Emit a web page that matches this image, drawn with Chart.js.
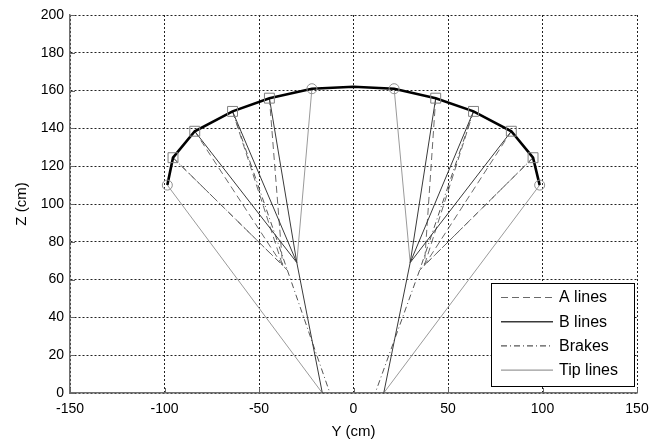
<!DOCTYPE html>
<html lang="en">

<head>
    <meta charset="UTF-8">
    <title>Line plan - front view</title>
    <script src="https://cdn.jsdelivr.net/npm/chart.js@4.4.1/dist/chart.umd.min.js"></script>
    <style>
        body { margin: 0; background: #fff; }
        #wrap { width: 671px; height: 441px; }
    </style>
</head>

<body>
    <div id="wrap">
        <canvas id="linechart" width="671" height="441"></canvas>
    </div>
</body>
<script>
    // canopy leading edge (Y, Z in cm)
    const canopyY = [-98.5, -95.5, -84, -64, -44.5, -22, 0, 21.5, 43.5, 63.5, 83.5, 95, 98.5];
    const canopyZ = [110, 124.5, 138.5, 149, 156, 161, 162, 161, 156, 149, 138.5, 124.5, 110];

    // attachment markers
    const squareY = [-95.5, -84, -64, -44.5, 43.5, 63.5, 83.5, 95];
    const squareZ = [124.5, 138.5, 149, 156, 156, 149, 138.5, 124.5];
    const circleY = [-98.5, -22, 21.5, 98.5];
    const circleZ = [110, 161, 161, 110];

    // line segments: [y1, z1, y2, z2]
    const aLines = [
        [-95.5, 124.5, -37.5, 67.5], [-84, 138.5, -37.5, 67.5], [-64, 149, -37.5, 67.5], [-44.5, 156, -37.5, 67.5],
        [95, 124.5, 37.5, 67.5], [83.5, 138.5, 37.5, 67.5], [63.5, 149, 37.5, 67.5], [43.5, 156, 37.5, 67.5]
    ];
    const bLines = [
        [-84, 138.5, -30, 69], [-64, 149, -30, 69], [-44.5, 156, -30, 69], [-30, 69, -16.5, 0],
        [83.5, 138.5, 30, 69], [63.5, 149, 30, 69], [43.5, 156, 30, 69], [30, 69, 16, 0]
    ];
    const brakeLines = [
        [-95.5, 124.5, -35, 65], [-64, 149, -35, 65], [-35, 65, -12.5, 0],
        [95, 124.5, 35, 65], [63.5, 149, 35, 65], [35, 65, 11.5, 0]
    ];
    const tipLines = [
        [-98.5, 110, -16.5, 0], [-22, 161, -30, 69],
        [98.5, 110, 16, 0], [21.5, 161, 30, 69]
    ];

    const FONT = 'Arial, "Liberation Sans", sans-serif';

    const toPoints = (ys, zs) => ys.map((y, i) => ({ x: y, y: zs[i] }));

    // segments joined with gaps so each list is one dataset
    const toSegments = (segs) => {
        let out = [];
        segs.forEach(s => {
            out.push({ x: s[0], y: s[1] }, { x: s[2], y: s[3] }, { x: s[2], y: null });
        });
        return out;
    };

    const styles = {
        a: { color: '#6a6a6a', dash: [7, 4], width: 1 },
        b: { color: '#3a3a3a', dash: [], width: 1 },
        brake: { color: '#555', dash: [6, 3, 1, 3], width: 1 },
        tip: { color: '#9a9a9a', dash: [], width: 1 }
    };

    const segDataset = (label, segs, st, order) => ({
        label: label,
        data: toSegments(segs),
        showLine: true,
        borderColor: st.color,
        borderWidth: st.width,
        borderDash: st.dash,
        pointRadius: 0,
        spanGaps: false,
        order: order
    });

    // legend box drawn inside the plot
    const legendBox = {
        id: 'legendBox',
        afterDraw(chart) {
            const ctx = chart.ctx;
            const items = [['A lines', styles.a], ['B lines', styles.b], ['Brakes', styles.brake], ['Tip lines', styles.tip]];
            ctx.save();
            ctx.fillStyle = '#fff';
            ctx.fillRect(491, 283, 143, 103);
            ctx.strokeStyle = '#000';
            ctx.lineWidth = 1;
            ctx.setLineDash([]);
            ctx.strokeRect(491.5, 283.5, 143, 103);
            items.forEach((it, i) => {
                const y = 297 + i * 24.2;
                ctx.strokeStyle = it[1].color;
                ctx.lineWidth = it[0] === 'B lines' ? 1.6 : 1.2;
                ctx.setLineDash(it[1].dash);
                ctx.beginPath();
                ctx.moveTo(501, y + 0.5);
                ctx.lineTo(553, y + 0.5);
                ctx.stroke();
                ctx.setLineDash([]);
                ctx.fillStyle = '#000';
                ctx.font = '16px ' + FONT;
                ctx.textBaseline = 'middle';
                ctx.textAlign = 'left';
                ctx.fillText(it[0], 559, y + 1);
            });
            ctx.restore();
        }
    };

    // short inward ticks on the left and bottom axes
    const innerTicks = {
        id: 'innerTicks',
        afterDatasetsDraw(chart) {
            const ctx = chart.ctx;
            const xs = chart.scales.x, ys = chart.scales.y;
            ctx.save();
            ctx.strokeStyle = '#666';
            ctx.lineWidth = 1;
            ctx.beginPath();
            xs.ticks.forEach(t => {
                const px = Math.round(xs.getPixelForValue(t.value)) + 0.5;
                ctx.moveTo(px, ys.bottom);
                ctx.lineTo(px, ys.bottom - 5);
            });
            ys.ticks.forEach(t => {
                const py = Math.round(ys.getPixelForValue(t.value)) + 0.5;
                ctx.moveTo(xs.left, py);
                ctx.lineTo(xs.left + 5, py);
            });
            ctx.stroke();
            ctx.restore();
        }
    };

    new Chart(document.getElementById('linechart'), {
        type: 'scatter',
        data: {
            datasets: [
                {
                    label: 'squares',
                    data: toPoints(squareY, squareZ),
                    pointStyle: 'rect',
                    pointRadius: 7,
                    borderColor: '#808080',
                    backgroundColor: 'rgba(0,0,0,0)',
                    borderWidth: 1,
                    showLine: false,
                    order: 0
                },
                {
                    label: 'circles',
                    data: toPoints(circleY, circleZ),
                    pointStyle: 'circle',
                    pointRadius: 5,
                    borderColor: '#909090',
                    backgroundColor: 'rgba(0,0,0,0)',
                    borderWidth: 1,
                    showLine: false,
                    order: 0
                },
                {
                    label: 'canopy',
                    data: toPoints(canopyY, canopyZ),
                    showLine: true,
                    borderColor: '#000',
                    borderWidth: 2.6,
                    pointRadius: 0,
                    order: 1
                },
                segDataset('A lines', aLines, styles.a, 3),
                segDataset('B lines', bLines, styles.b, 2),
                segDataset('Brakes', brakeLines, styles.brake, 4),
                segDataset('Tip lines', tipLines, styles.tip, 5)
            ]
        },
        options: {
            responsive: false,
            animation: false,
            layout: { padding: { top: 15, right: 34, left: 0, bottom: 0 } },
            plugins: {
                legend: { display: false },
                tooltip: { enabled: false }
            },
            scales: {
                x: {
                    type: 'linear',
                    min: -150,
                    max: 150,
                    ticks: { stepSize: 50, color: '#000', padding: 8, font: { family: FONT, size: 14 } },
                    grid: { color: '#222', lineWidth: 1, drawTicks: false },
                    border: { color: '#707070', width: 1.5, dash: [2, 2] },
                    title: { display: true, text: 'Y (cm)', color: '#000', padding: 0, font: { family: FONT, size: 15 } },
                    afterFit: (scale) => { scale.height = 48; }
                },
                y: {
                    type: 'linear',
                    min: 0,
                    max: 200,
                    ticks: { stepSize: 20, color: '#000', padding: 6, font: { family: FONT, size: 14 } },
                    grid: { color: '#222', lineWidth: 1, drawTicks: false },
                    border: { color: '#707070', width: 1.5, dash: [2, 2] },
                    title: { display: true, text: 'Z (cm)', color: '#000', padding: { top: 13 }, font: { family: FONT, size: 15 } },
                    afterFit: (scale) => { scale.width = 70; }
                }
            }
        },
        plugins: [innerTicks, legendBox]
    });
</script>

</html>
